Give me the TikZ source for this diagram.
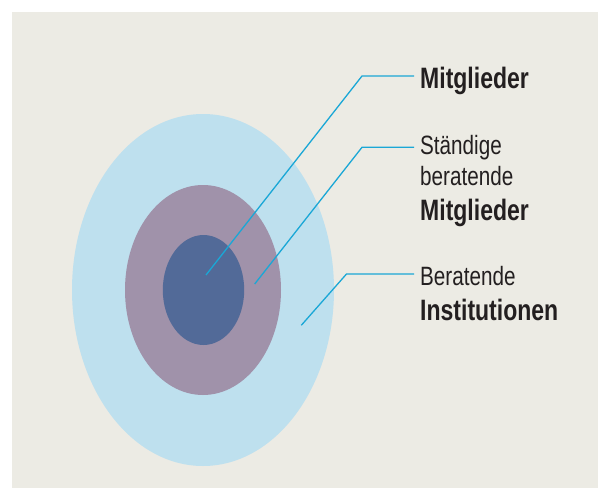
\documentclass[tikz,border=0pt]{standalone}
\usepackage{fontspec}
\setmainfont{Liberation Sans}[FakeStretch=0.78]
\definecolor{bgbeige}{HTML}{ECEBE4}
\definecolor{outerblue}{HTML}{BEE0EE}
\definecolor{midmauve}{HTML}{A092AA}
\definecolor{innerblue}{HTML}{526A98}
\definecolor{linecyan}{HTML}{1AA7D6}
\definecolor{textdark}{HTML}{231F20}
\tikzset{
  conn/.style={draw=linecyan, line width=1.3pt},
  reglab/.style={anchor=base west, inner sep=0pt, text=textdark, font=\fontsize{26.5}{30}\selectfont},
  boldlab/.style={anchor=base west, inner sep=0pt, text=textdark, font=\fontsize{29.5}{34}\selectfont\bfseries},
}
\begin{document}
\begin{tikzpicture}[x=1pt,y=-1pt]
\useasboundingbox (0,0) rectangle (598,488);
\fill[white] (0,0) rectangle (598,488);
\fill[bgbeige] (12,12) rectangle (598,488);
% rings
\fill[outerblue] (203,290) ellipse [x radius=131, y radius=176];
\fill[midmauve] (203,290) ellipse [x radius=78, y radius=105];
\fill[innerblue] (203.5,290) ellipse [x radius=40.7, y radius=55];
% labels
\node[boldlab] (l1) at (420,88.3) {Mitglieder};
\node[reglab] (l2a) at (420,154.3) {Ständige};
\node[reglab] (l2b) at (420,185) {beratende};
\node[boldlab] (l2c) at (420,220) {Mitglieder};
\node[reglab] (l3a) at (420,285.3) {Beratende};
\node[boldlab] (l3b) at (420,320.7) {Institutionen};
% connector points
\coordinate (d1) at (206,275);
\coordinate (k1) at (362,76);
\coordinate (d2) at (254.7,284);
\coordinate (k2) at (362,147.3);
\coordinate (d3) at (301.3,325.3);
\coordinate (k3) at (346.5,274);
\draw[conn] (d1) -- (k1) -- ([xshift=-6pt]l1.west |- k1);
\draw[conn] (d2) -- (k2) -- ([xshift=-6pt]l2a.west |- k2);
\draw[conn] (d3) -- (k3) -- ([xshift=-6pt]l3a.west |- k3);
\end{tikzpicture}
\end{document}
